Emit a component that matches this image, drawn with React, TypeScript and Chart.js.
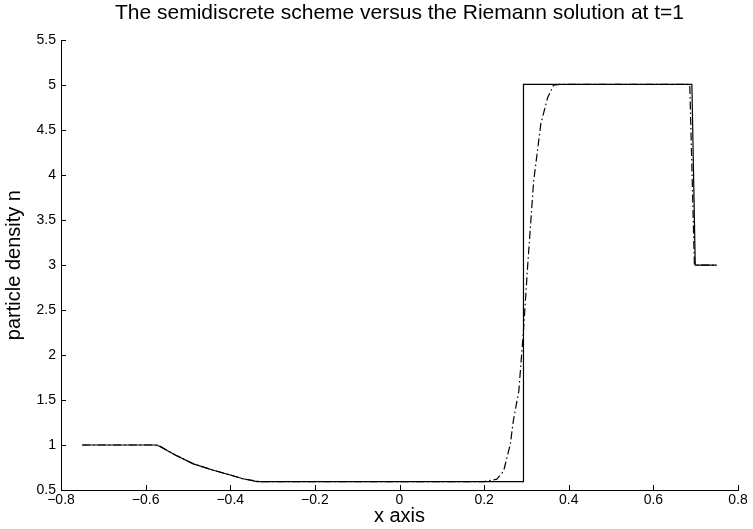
import React, { useEffect, useRef } from "react";
import { Chart, registerables } from "chart.js";

Chart.register(...registerables);

const TITLE = "The semidiscrete scheme versus the Riemann solution at t=1";
const X_LABEL = "x axis";
const Y_LABEL = "particle density n";

const X_TICKS = [-0.8, -0.6, -0.4, -0.2, 0, 0.2, 0.4, 0.6, 0.8];
const Y_TICKS = [0.5, 1, 1.5, 2, 2.5, 3, 3.5, 4, 4.5, 5, 5.5];

// Exact Riemann solution (solid)
const exactX = [-0.75, -0.573, -0.53, -0.487, -0.44, -0.4, -0.37, -0.337, 0.293, 0.293, 0.691, 0.699, 0.75];
const exactY = [1.0, 1.0, 0.89, 0.79, 0.72, 0.667, 0.625, 0.594, 0.594, 5.01, 5.01, 3.0, 3.0];

// Semidiscrete scheme (dash-dot)
const schemeX = [-0.75, -0.585, -0.565, -0.53, -0.487, -0.44, -0.4, -0.37, -0.33, 0.2, 0.23, 0.246, 0.254, 0.262, 0.269, 0.282, 0.293, 0.303, 0.317, 0.334, 0.35, 0.364, 0.38, 0.686, 0.697, 0.75];
const schemeY = [1.0, 1.0, 0.985, 0.89, 0.79, 0.72, 0.667, 0.625, 0.594, 0.594, 0.62, 0.71, 0.86, 1.01, 1.27, 1.6, 2.27, 3.0, 3.93, 4.57, 4.86, 5.0, 5.01, 5.01, 3.0, 3.0];

const FONT = "'Liberation Sans', Arial, Helvetica, sans-serif";

const fmt = (v: number) => {
  const r = Math.round(v * 10) / 10;
  return r < 0 ? "\u2212" + String(Math.abs(r)) : String(r);
};

const inwardTicks = {
  id: "inwardTicks",
  afterDraw(chart: any) {
    const { ctx, chartArea, scales } = chart;
    ctx.save();
    ctx.strokeStyle = "#000";
    ctx.lineWidth = 1;
    ctx.beginPath();
    for (const v of X_TICKS) {
      const px = Math.round(scales.x.getPixelForValue(v)) + 0.5;
      ctx.moveTo(px, chartArea.bottom);
      ctx.lineTo(px, chartArea.bottom - 5);
    }
    for (const v of Y_TICKS) {
      const py = Math.round(scales.y.getPixelForValue(v)) + 0.5;
      ctx.moveTo(chartArea.left, py);
      ctx.lineTo(chartArea.left + 5, py);
    }
    ctx.stroke();
    ctx.restore();
  },
};

export default function App() {
  const ref = useRef<HTMLCanvasElement | null>(null);
  useEffect(() => {
    if (!ref.current) return;
    const chart = new Chart(ref.current, {
      type: "line",
      data: {
        datasets: [
          {
            label: "exact",
            data: exactX.map((x, i) => ({ x, y: exactY[i] })),
            borderColor: "#000",
            borderWidth: 1.2,
            pointRadius: 0,
            tension: 0,
            fill: false,
          },
          {
            label: "scheme",
            data: schemeX.map((x, i) => ({ x, y: schemeY[i] })),
            borderColor: "#000",
            borderWidth: 1.2,
            borderDash: [8, 3, 1.5, 3],
            pointRadius: 0,
            tension: 0,
            fill: false,
          },
        ],
      },
      options: {
        responsive: false,
        animation: false,
        layout: { padding: { left: 0, right: 15, top: 0, bottom: 0 } },
        plugins: {
          legend: { display: false },
          tooltip: { enabled: false },
          title: {
            display: true,
            text: TITLE,
            color: "#000",
            fullSize: false,
            font: { family: FONT, size: 21, weight: "normal" },
            padding: { top: 1, bottom: 14 },
          },
        },
        scales: {
          x: {
            type: "linear",
            min: -0.8,
            max: 0.8,
            afterBuildTicks: (s: any) => {
              s.ticks = X_TICKS.map((v) => ({ value: v }));
            },
            afterFit: (s: any) => {
              s.height = 39;
            },
            ticks: {
              color: "#000",
              font: { family: FONT, size: 14 },
              padding: 2,
              maxRotation: 0,
              autoSkip: false,
              callback: (v: any) => fmt(Number(v)),
            },
            grid: { display: true, drawOnChartArea: false, drawTicks: false },
            border: { display: true, color: "#000", width: 1 },
            title: {
              display: true,
              text: X_LABEL,
              color: "#000",
              font: { family: FONT, size: 20 },
              padding: { top: 0, bottom: 1 },
            },
          },
          y: {
            type: "linear",
            min: 0.5,
            max: 5.5,
            afterBuildTicks: (s: any) => {
              s.ticks = Y_TICKS.map((v) => ({ value: v }));
            },
            afterFit: (s: any) => {
              s.width = 61;
            },
            ticks: {
              color: "#000",
              font: { family: FONT, size: 14 },
              padding: 5,
              autoSkip: false,
              callback: (v: any) => fmt(Number(v)),
            },
            grid: { display: true, drawOnChartArea: false, drawTicks: false },
            border: { display: true, color: "#000", width: 1 },
            title: {
              display: true,
              text: Y_LABEL,
              color: "#000",
              font: { family: FONT, size: 20 },
              padding: { top: 2, bottom: 0 },
            },
          },
        },
      },
      plugins: [inwardTicks],
    } as any);
    return () => chart.destroy();
  }, []);
  return (
    <div style={{ position: "fixed", left: 0, top: 0, width: 753, height: 529, background: "#fff" }}>
      <canvas ref={ref} width={753} height={529} style={{ display: "block" }} />
    </div>
  );
}
